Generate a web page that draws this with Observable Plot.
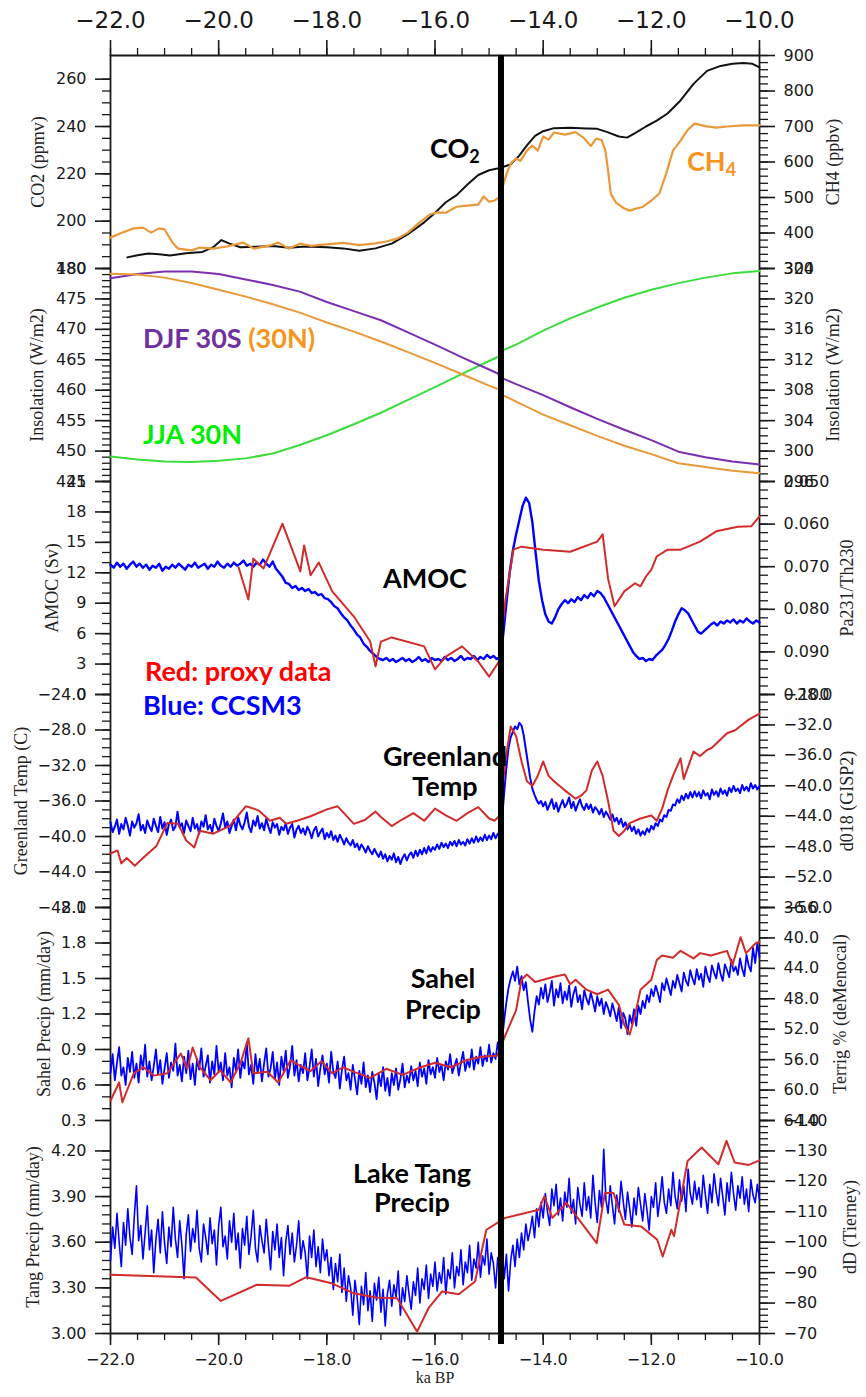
<!DOCTYPE html>
<html><head><meta charset="utf-8">
<script src="https://cdn.jsdelivr.net/npm/d3@7"></script>
<script src="https://cdn.jsdelivr.net/npm/@observablehq/plot@0.6"></script>
<style>
body{margin:0;background:#fff;}
#wrap{position:relative;width:866px;height:1397px;overflow:hidden;background:#fff;}
.ann{position:absolute;font-family:Lato,"Open Sans",sans-serif;font-weight:700;font-size:27px;line-height:27px;white-space:nowrap;}
.ann sub{font-size:18px;vertical-align:-5px;line-height:0;}
.c{text-align:center;width:200px;}
</style></head><body><div id="wrap"></div>
<script>
// ---------------- DATA ----------------
const xMajorTicks = [-22, -20, -18, -16, -14, -12, -10];
const thickLineAge = -14.78;

// Panel 1: CO2 (ppmv, left) and CH4 (ppbv, right)
const co2 = [[-21.69,184.7],[-21.5,185.6],[-21.3,186.3],[-21.1,186.0],[-20.9,185.5],[-20.6,186.4],[-20.3,187.0],[-20.1,189],[-19.95,192.0],[-19.8,190.5],[-19.6,189],[-19.3,189.2],[-19.0,189.5],[-18.7,188.8],[-18.4,189.3],[-18.0,189.0],[-17.7,188.5],[-17.4,187.5],[-17.1,188.5],[-16.8,190.5],[-16.5,194.5],[-16.2,199.5],[-16.0,203.5],[-15.8,208],[-15.6,211],[-15.4,215.5],[-15.2,219.5],[-15.0,221.5],[-14.8,222.5],[-14.6,224],[-14.45,227.5],[-14.3,232],[-14.15,236],[-14.0,238],[-13.8,239.3],[-13.5,239.5],[-13.2,239.2],[-13.0,239],[-12.8,237.5],[-12.6,235.8],[-12.45,235.3],[-12.3,237.2],[-12.1,240],[-11.9,242.5],[-11.7,245.5],[-11.46,251],[-11.22,258],[-10.97,263.5],[-10.72,265.6],[-10.5,266.5],[-10.3,266.8],[-10.13,266.5],[-10.0,265]];
const ch4 = [[-22,387],[-21.8,400],[-21.57,413],[-21.4,415],[-21.25,401],[-21.1,413],[-21.0,410],[-20.85,372],[-20.75,356],[-20.5,351],[-20.35,359],[-20.1,356],[-19.85,362],[-19.55,373],[-19.35,356],[-19.05,365],[-18.9,373],[-18.7,356],[-18.5,370],[-18.3,364],[-18.0,368],[-17.7,372],[-17.4,366],[-17.1,371],[-16.9,376],[-16.7,384],[-16.5,401],[-16.3,428],[-16.1,452],[-15.95,458],[-15.8,457],[-15.6,474],[-15.4,477],[-15.2,480],[-15.1,503],[-15.0,488],[-14.9,491],[-14.82,500],[-14.75,530],[-14.68,565],[-14.6,596],[-14.5,610],[-14.42,603],[-14.3,632],[-14.2,646],[-14.1,632],[-14.0,672],[-13.9,663],[-13.8,683],[-13.6,677],[-13.4,684],[-13.25,668],[-13.12,645],[-13.02,666],[-12.92,662],[-12.85,632],[-12.8,576],[-12.75,511],[-12.65,485],[-12.5,469],[-12.4,463],[-12.3,468],[-12.15,474],[-12.0,491],[-11.85,512],[-11.72,570],[-11.6,632],[-11.46,660],[-11.33,690],[-11.2,708],[-11.0,701],[-10.8,697],[-10.6,700],[-10.3,703],[-10.0,703]];
const co2Ticks = [180, 200, 220, 240, 260];
const ch4Ticks = [300, 400, 500, 600, 700, 800, 900];

// Panel 2: insolation (W/m2)
const djf30S = [[-22,478.4],[-21.5,479.1],[-21,479.5],[-20.5,479.5],[-20,479.1],[-19.5,478.2],[-19,477.3],[-18.5,476.2],[-18,474.5],[-17.5,473],[-17,471.5],[-16.5,469.5],[-16,467.5],[-15.5,465.4],[-15,463.4],[-14.78,462.5],[-14.76,462.0],[-14.5,461.0],[-14,459.2],[-13.5,457.2],[-13,455.3],[-12.5,453.5],[-12,451.8],[-11.5,449.9],[-11,449.0],[-10.5,448.3],[-10,447.8]];
const jja30N = [[-22,449.1],[-21.5,448.6],[-21,448.3],[-20.5,448.2],[-20,448.4],[-19.5,448.8],[-19,449.6],[-18.5,451.0],[-18,452.6],[-17.5,454.4],[-17,456.3],[-16.5,458.4],[-16,460.5],[-15.5,462.7],[-15,464.8],[-14.78,465.7],[-14.76,466.5],[-14.5,467.5],[-14,469.8],[-13.5,471.8],[-13,473.6],[-12.5,475.2],[-12,476.5],[-11.5,477.6],[-11,478.5],[-10.5,479.2],[-10,479.6]];
const djf30N = [[-22,323.3],[-21.5,323.2],[-21,322.8],[-20.5,322.1],[-20,321.2],[-19.5,320.3],[-19,319.3],[-18.5,318.2],[-18,316.9],[-17.5,315.7],[-17,314.4],[-16.5,313.0],[-16,311.6],[-15.5,310.1],[-15,308.6],[-14.78,308.0],[-14.76,307.4],[-14.5,306.5],[-14,304.8],[-13.5,303.4],[-13,302.0],[-12.5,300.7],[-12,299.6],[-11.5,298.4],[-11,297.9],[-10.5,297.4],[-10,297.1]];
const insLTicks = [445, 450, 455, 460, 465, 470, 475, 480];
const insRTicks = [296, 300, 304, 308, 312, 316, 320, 324];

// model time axes for CCSM3 series (ka BP)
const modelAgeA = d3.range(201).map(i => -22 + i * 0.06);
const modelAgeB = d3.range(301).map(i => -22 + i * 0.04);

// Panel 3: AMOC (Sv) and Pa231/Th230
const amocModel = [12.8,12.5,13.0,12.6,12.9,12.4,12.8,13.1,12.6,12.9,
12.5,12.8,12.3,12.7,12.5,12.9,12.2,12.6,12.4,12.8,
12.5,12.9,12.6,12.3,12.8,12.6,13.0,12.5,12.7,12.9,
12.4,12.8,12.6,13.1,12.7,12.5,12.9,12.6,13.0,12.7,
12.9,13.2,12.7,12.9,12.6,13.0,12.8,13.3,12.9,12.6,
13.1,12.4,12.0,11.6,11.0,10.9,10.5,10.7,10.3,10.5,
10.2,10.4,10.0,10.1,9.8,9.9,9.5,9.4,9.1,8.7,
8.5,8.0,7.6,7.3,6.8,6.4,5.9,5.6,5.0,4.7,
4.3,4.0,3.7,3.5,3.4,3.6,3.3,3.5,3.2,3.4,
3.6,3.3,3.5,3.2,3.4,3.7,3.3,3.5,3.2,3.6,
3.4,3.5,3.3,3.7,3.4,3.6,3.3,3.5,3.8,3.4,
3.6,3.5,3.8,3.4,3.7,3.5,3.9,3.6,3.8,3.5,3.7,
5.8,9.0,12.0,14.2,15.8,17.2,18.6,19.4,18.9,17.0,
14.0,11.2,9.3,7.9,7.2,7.0,7.6,8.4,8.9,9.3,
9.0,9.4,9.1,9.6,9.3,9.8,9.5,10.0,9.7,10.2,
10.0,9.6,9.0,8.4,7.8,7.2,6.6,6.0,5.4,4.8,
4.2,3.8,3.5,3.6,3.3,3.5,3.4,3.8,4.1,4.4,
4.9,5.5,6.3,7.2,7.9,8.5,8.3,8.0,7.4,6.8,
6.2,6.0,6.3,6.6,6.9,7.1,6.8,7.2,7.0,7.3,
7.1,7.4,7.0,7.3,7.1,7.5,7.2,7.0,7.3,7.1];
const paTh = [[-19.63,0.0702],[-19.45,0.0777],[-19.36,0.0681],[-19.17,0.0704],[-18.82,0.0599],[-18.49,0.0711],[-18.42,0.0650],[-18.3,0.0720],[-18.15,0.0690],[-17.9,0.0758],[-17.5,0.0817],[-17.2,0.0875],[-17.1,0.0934],[-17.0,0.0876],[-16.8,0.0866],[-16.2,0.0887],[-16.0,0.0941],[-15.8,0.0911],[-15.5,0.0887],[-15.2,0.0923],[-15.0,0.0958],[-14.82,0.0923],[-14.7,0.0780],[-14.55,0.0660],[-14.4,0.0653],[-14.0,0.0660],[-13.5,0.0665],[-13.0,0.0641],[-12.9,0.0624],[-12.8,0.0728],[-12.68,0.0793],[-12.5,0.0758],[-12.3,0.0739],[-12.2,0.0746],[-12.1,0.0723],[-12.0,0.0707],[-11.9,0.0676],[-11.7,0.0660],[-11.46,0.0660],[-11.1,0.0641],[-10.8,0.0617],[-10.4,0.0606],[-10.15,0.0605],[-10.0,0.0582]];
const amocTicks = [0, 3, 6, 9, 12, 15, 18, 21];
const paThTicks = [0.05, 0.06, 0.07, 0.08, 0.09, 0.10];

// Panel 4: Greenland temperature (C) and d18O GISP2
const greenModel = [-38.4,-39.5,-38.9,-38.1,-39.7,-38.6,-39.2,-37.9,-38.8,-39.9,
-38.3,-39.0,-38.5,-37.5,-39.3,-38.7,-39.6,-38.2,-38.9,-39.4,
-38.0,-38.8,-39.5,-37.8,-39.1,-38.4,-39.8,-38.6,-38.1,-39.3,
-38.9,-37.2,-39.0,-38.5,-39.6,-38.2,-38.8,-39.4,-37.9,-39.1,
-38.6,-39.7,-38.3,-38.9,-37.6,-39.2,-38.7,-39.5,-38.0,-38.8,
-39.4,-38.5,-37.4,-39.0,-38.3,-39.6,-38.8,-38.1,-39.3,-37.8,
-38.7,-39.2,-38.4,-37.3,-38.9,-39.5,-38.2,-38.8,-37.7,-39.1,
-38.5,-39.3,-38.0,-38.9,-39.6,-38.4,-39.0,-38.6,-39.8,-38.9,
-39.3,-38.5,-39.7,-39.0,-38.6,-40.1,-39.2,-38.8,-39.6,-39.1,
-39.8,-38.9,-39.4,-40.2,-39.3,-38.9,-40.0,-39.5,-39.1,-40.3,
-39.6,-40.1,-39.4,-40.4,-39.9,-40.6,-39.8,-40.3,-40.9,-40.2,
-40.7,-41.0,-40.4,-41.2,-40.8,-41.5,-40.9,-41.3,-41.8,-41.1,
-41.6,-42.0,-41.4,-41.9,-42.3,-41.7,-42.5,-42.0,-42.8,-42.2,
-42.6,-41.9,-42.9,-42.3,-43.1,-42.4,-42.0,-42.7,-42.1,-41.8,
-42.4,-41.6,-42.2,-41.5,-42.0,-41.3,-41.9,-41.1,-41.7,-41.2,
-41.5,-40.9,-41.4,-40.7,-41.2,-40.8,-41.3,-40.6,-41.0,-40.5,
-41.1,-40.4,-40.9,-40.6,-41.0,-40.3,-40.8,-40.2,-40.7,-40.0,
-40.6,-40.1,-40.5,-39.8,-40.4,-39.9,-40.3,-39.6,-40.2,-39.7,-40.1,
-38.0,-35.0,-32.2,-30.0,-28.8,-28.2,-27.6,-27.9,-27.2,-27.5,
-28.6,-30.2,-31.8,-33.4,-34.6,-35.3,-35.9,-36.3,-36.0,-36.6,
-36.1,-37.0,-36.4,-35.8,-36.9,-36.2,-37.2,-36.5,-35.9,-36.7,
-36.3,-35.6,-36.8,-36.1,-37.1,-36.4,-35.8,-36.6,-37.0,-36.3,
-36.9,-36.4,-37.3,-36.7,-37.0,-37.5,-36.9,-37.8,-37.2,-37.6,
-38.1,-37.5,-38.3,-37.9,-38.6,-38.0,-38.9,-38.4,-39.2,-38.7,
-39.4,-38.9,-39.7,-39.2,-39.9,-39.4,-39.8,-39.1,-39.5,-38.8,
-39.2,-38.5,-38.8,-38.1,-38.3,-37.6,-37.8,-37.0,-37.1,-36.4,
-36.5,-35.8,-36.2,-35.4,-35.9,-35.2,-35.7,-35.0,-35.6,-34.9,
-35.5,-35.0,-35.7,-34.8,-35.4,-35.1,-35.8,-34.7,-35.3,-34.9,
-35.5,-34.6,-35.2,-34.8,-35.4,-34.5,-35.0,-34.3,-34.9,-34.6,
-35.1,-34.2,-34.8,-34.4,-34.9,-34.0,-34.6,-34.2,-34.7,-34.3];
const d18O = [[-22,-48.9],[-21.87,-48.5],[-21.8,-50.2],[-21.7,-49.5],[-21.55,-50.5],[-21.4,-49.5],[-21.15,-47.9],[-20.95,-44.9],[-20.75,-45.0],[-20.6,-47.2],[-20.45,-48.1],[-20.35,-45.9],[-20.1,-46.3],[-19.8,-45.3],[-19.5,-42.7],[-19.35,-43.0],[-19.25,-43.3],[-19.05,-44.6],[-18.87,-44.2],[-18.75,-45.0],[-18.55,-44.6],[-18.3,-44.0],[-18.0,-43.1],[-17.8,-42.7],[-17.5,-45.0],[-17.3,-44.5],[-17.1,-43.4],[-17.0,-44.1],[-16.8,-45.3],[-16.6,-44.4],[-16.4,-43.6],[-16.2,-44.6],[-16.0,-43.0],[-15.8,-43.9],[-15.6,-44.6],[-15.4,-43.6],[-15.2,-42.8],[-15.0,-44.3],[-14.9,-44.6],[-14.8,-43.9],[-14.7,-36.8],[-14.6,-32.2],[-14.5,-33.5],[-14.4,-36.8],[-14.3,-39.4],[-14.2,-40.0],[-14.1,-38.7],[-14.0,-36.8],[-13.9,-38.7],[-13.8,-39.4],[-13.6,-40.6],[-13.4,-41.7],[-13.3,-41.3],[-13.2,-40.6],[-13.1,-38.0],[-13.0,-36.8],[-12.9,-38.7],[-12.8,-42.0],[-12.7,-45.9],[-12.6,-46.6],[-12.5,-45.9],[-12.4,-44.9],[-12.2,-44.3],[-12.0,-43.9],[-11.9,-44.6],[-11.8,-43.0],[-11.7,-40.6],[-11.6,-38.7],[-11.46,-36.4],[-11.4,-39.1],[-11.22,-35.5],[-11.1,-36.1],[-10.97,-35.3],[-10.88,-35.0],[-10.6,-33.1],[-10.45,-32.7],[-10.2,-31.3],[-10.0,-30.5]];
const greenTicks = [-48, -44, -40, -36, -32, -28, -24];
const d18OTicks = [-56, -52, -48, -44, -40, -36, -32, -28];

// Panel 5: Sahel precip (mm/day) and Terrigenous % (deMenocal)
const sahelModel = [0.70,0.86,0.64,0.79,0.92,0.68,0.75,0.60,0.83,0.71,
0.88,0.66,0.78,0.62,0.85,0.73,0.94,0.67,0.80,0.64,
0.76,0.90,0.69,0.81,0.61,0.74,0.87,0.66,0.79,0.72,
0.95,0.68,0.77,0.63,0.84,0.70,0.89,0.65,0.78,0.60,
0.82,0.73,0.91,0.67,0.76,0.85,0.62,0.80,0.69,0.93,
0.71,0.79,0.64,0.87,0.68,0.75,0.58,0.83,0.72,0.90,
0.66,0.80,0.74,0.96,0.69,0.77,0.61,0.86,0.70,0.82,
0.63,0.78,0.91,0.67,0.74,0.88,0.65,0.79,0.60,0.84,
0.72,0.89,0.66,0.76,0.93,0.68,0.81,0.63,0.77,0.70,
0.87,0.64,0.75,0.90,0.67,0.82,0.59,0.74,0.85,0.69,
0.78,0.62,0.88,0.71,0.66,0.80,0.57,0.73,0.84,0.64,
0.70,0.56,0.77,0.65,0.52,0.72,0.61,0.79,0.58,0.68,
0.54,0.71,0.62,0.48,0.69,0.59,0.75,0.55,0.66,0.51,
0.70,0.60,0.74,0.56,0.65,0.78,0.58,0.68,0.62,0.76,
0.64,0.72,0.59,0.79,0.67,0.74,0.61,0.81,0.69,0.75,
0.66,0.83,0.71,0.77,0.64,0.80,0.73,0.86,0.70,0.76,
0.82,0.68,0.79,0.88,0.72,0.81,0.75,0.90,0.73,0.84,
0.78,0.92,0.76,0.85,0.80,0.94,0.79,0.87,0.82,0.96,0.84,
0.98,1.15,1.30,1.42,1.50,1.56,1.48,1.60,1.45,1.52,
1.40,1.47,1.30,1.15,1.05,1.22,1.35,1.28,1.42,1.33,
1.45,1.30,1.38,1.48,1.27,1.41,1.34,1.46,1.29,1.39,
1.32,1.44,1.26,1.37,1.43,1.30,1.36,1.24,1.40,1.33,
1.28,1.38,1.31,1.22,1.35,1.27,1.33,1.20,1.30,1.25,
1.18,1.29,1.22,1.14,1.26,1.08,1.21,1.16,1.03,1.19,
1.12,1.24,1.10,1.27,1.20,1.31,1.25,1.36,1.30,1.41,
1.35,1.44,1.38,1.30,1.46,1.40,1.50,1.43,1.36,1.48,
1.42,1.53,1.46,1.39,1.55,1.48,1.44,1.57,1.50,1.45,
1.58,1.49,1.54,1.43,1.60,1.52,1.47,1.61,1.55,1.50,
1.63,1.54,1.48,1.62,1.57,1.51,1.66,1.56,1.60,1.53,
1.67,1.58,1.52,1.70,1.61,1.56,1.76,1.63,1.80,1.68];
const terrig = [[-22,61.4],[-21.84,59.0],[-21.78,61.6],[-21.57,57.8],[-21.39,57.0],[-21.2,58.1],[-20.95,57.8],[-20.7,55.2],[-20.58,57.2],[-20.48,54.4],[-20.35,57.0],[-20.15,58.7],[-19.97,57.4],[-19.78,59.0],[-19.6,56.5],[-19.45,53.2],[-19.36,57.8],[-19.1,57.6],[-18.9,59.0],[-18.67,56.1],[-18.5,56.8],[-18.3,57.5],[-18.1,56.2],[-17.9,57.8],[-17.7,57.0],[-17.5,57.6],[-17.2,58.4],[-16.9,57.2],[-16.6,58.0],[-16.3,57.1],[-16.0,56.4],[-15.7,57.0],[-15.4,56.0],[-15.1,55.6],[-14.85,55.5],[-14.7,52.8],[-14.5,49.5],[-14.4,45.5],[-14.3,44.8],[-14.15,45.8],[-14.0,45.5],[-13.8,45.1],[-13.6,44.8],[-13.5,46.1],[-13.4,45.5],[-13.2,46.8],[-13.0,47.4],[-12.8,46.8],[-12.6,48.8],[-12.5,51.4],[-12.4,52.7],[-12.3,50.1],[-12.2,46.8],[-12.0,45.5],[-11.9,42.9],[-11.8,42.3],[-11.6,42.6],[-11.46,41.7],[-11.22,42.7],[-11.1,42.0],[-10.9,42.3],[-10.6,41.7],[-10.5,43.6],[-10.35,39.9],[-10.25,42.0],[-10.07,40.7],[-10.0,40.5]];
const sahelTicks = [0.3, 0.6, 0.9, 1.2, 1.5, 1.8, 2.1];
const terrigTicks = [36, 40, 44, 48, 52, 56, 60, 64];

// Panel 6: Lake Tanganyika precip (mm/day) and dD (Tierney)
const tangModel = [3.48,3.70,3.56,3.79,3.60,3.44,3.73,3.58,3.82,3.63,
3.52,3.77,3.97,3.61,3.71,3.49,3.66,3.84,3.55,3.68,
3.40,3.62,3.75,3.53,3.80,3.59,3.46,3.70,3.57,3.83,
3.62,3.50,3.74,3.58,3.36,3.65,3.78,3.54,3.69,3.60,
3.81,3.56,3.47,3.72,3.63,3.52,3.76,3.59,3.68,3.45,
3.71,3.83,3.57,3.64,3.49,3.74,3.60,3.79,3.55,3.66,
3.43,3.69,3.58,3.77,3.52,3.64,3.81,3.56,3.47,3.71,
3.61,3.53,3.75,3.58,3.42,3.67,3.55,3.72,3.50,3.63,
3.38,3.60,3.71,3.52,3.66,3.47,3.58,3.74,3.49,3.61,
3.53,3.36,3.64,3.50,3.68,3.44,3.57,3.40,3.62,3.48,
3.55,3.38,3.50,3.29,3.46,3.34,3.52,3.27,3.43,3.21,
3.38,3.30,3.12,3.35,3.24,3.06,3.31,3.19,3.40,3.15,
3.28,3.08,3.33,3.22,3.37,3.14,3.29,3.05,3.26,3.35,
3.18,3.32,3.24,3.41,3.12,3.30,3.21,3.38,3.26,3.16,
3.34,3.25,3.43,3.20,3.36,3.29,3.45,3.23,3.39,3.31,
3.47,3.28,3.40,3.33,3.50,3.26,3.42,3.36,3.53,3.30,
3.44,3.38,3.55,3.32,3.47,3.40,3.58,3.35,3.49,3.43,
3.60,3.37,3.51,3.45,3.62,3.39,3.53,3.46,3.30,3.50,3.42,
3.56,3.36,3.52,3.28,3.48,3.58,3.44,3.62,3.50,3.66,
3.55,3.72,3.61,3.68,3.77,3.63,3.82,3.70,3.86,3.76,
3.92,3.80,3.71,3.95,3.84,3.98,3.78,3.89,3.74,3.93,
3.83,4.02,3.79,3.88,3.72,3.96,3.85,3.77,3.99,3.81,
3.90,3.76,4.04,3.86,3.73,3.94,3.83,4.21,3.88,3.79,
3.97,3.84,3.72,3.91,3.80,4.00,3.87,3.75,3.93,3.82,
3.70,3.89,3.78,3.96,3.85,3.74,3.92,3.81,3.68,3.90,
3.83,3.99,3.77,3.88,4.03,3.86,3.79,3.95,3.84,4.06,
3.90,3.82,4.01,3.87,3.97,3.80,4.08,3.92,3.85,4.00,
3.88,3.96,3.83,4.04,3.91,3.79,3.98,3.86,4.05,3.93,
3.84,4.02,3.90,3.78,3.99,3.87,4.06,3.92,3.81,3.97,
3.89,4.03,3.85,3.95,3.80,4.01,3.91,3.86,3.98,3.88];
const dD = [[-22,-89.3],[-20.42,-88.4],[-19.96,-80.7],[-19.3,-86.0],[-18.69,-85.7],[-18.38,-88.5],[-17.91,-86.5],[-17.5,-83.2],[-17.1,-81.8],[-16.7,-81.6],[-16.33,-70.6],[-16.12,-78.3],[-15.87,-83.8],[-15.56,-82.9],[-15.26,-87.1],[-15.05,-104.1],[-14.70,-108],[-14.08,-110.7],[-13.98,-115.1],[-13.83,-108],[-13.57,-112.9],[-13.01,-99.7],[-12.86,-116.2],[-12.70,-116.2],[-12.50,-105.8],[-12.19,-105.2],[-11.89,-100.8],[-11.79,-95.3],[-11.63,-104.1],[-11.58,-102],[-11.33,-126.7],[-11.07,-131.1],[-10.76,-125.6],[-10.61,-133.3],[-10.46,-126.2],[-10.2,-125.4],[-10.0,-126.9]];
const tangTicks = [3.0, 3.3, 3.6, 3.9, 4.2];
const dDTicks = [-140, -130, -120, -110, -100, -90, -80, -70];

// ---------------- LAYOUT ----------------
const W = 866, H = 1397, ML = 110, MR = 107, TOP = 55, PH = 213;
const wrap = document.getElementById("wrap");
const f0 = d3.format("d"), f1 = d3.format(".1f"), f2 = d3.format(".2f"), f3 = d3.format(".3f");
const INK = "#1a1a1a";
const BLUE = "#0000ff", RED = "#d22b2b", ORANGE = "#e9993a", PURPLE = "#7a2fb0", GREEN = "#3ddc3d";

function addPlot(i, domain, marks) {
  const mt = i === 0 ? TOP : 14;
  const mb = i === 5 ? H - (TOP + 6 * PH) : 14;
  const svg = Plot.plot({
    width: W, height: PH + mt + mb,
    marginLeft: ML, marginRight: MR, marginTop: mt, marginBottom: mb,
    x: {domain: [-22, -10], axis: null},
    y: {domain, axis: null},
    style: {background: "transparent", overflow: "visible", fontFamily: "DejaVu Sans", fontSize: "16px", color: INK},
    marks
  });
  svg.style.position = "absolute";
  svg.style.left = "0px";
  svg.style.top = (TOP + i * PH - mt) + "px";
  wrap.appendChild(svg);
}
function yAxes(anchor, major, minorStep, fmt) {
  const lo = d3.min(major), hi = d3.max(major);
  const minor = d3.range(Math.round((hi - lo) / minorStep) + 1).map(k => lo + k * minorStep);
  return [
    Plot.axisY(minor, {anchor, tickSize: 8, tickFormat: () => "", strokeWidth: 1.3, label: null}),
    Plot.axisY(major, {anchor, tickSize: 15, tickPadding: 9, tickFormat: fmt, strokeWidth: 1.6, label: null})
  ];
}
function title(text, side, dx) {
  return Plot.text([text], {frameAnchor: side, textAnchor: "middle", lineAnchor: "middle", rotate: -90, dx, fontFamily: "Liberation Serif", fontSize: 18, fill: "#222"});
}
const frameSides = () => Plot.ruleX([-22, -10], {stroke: INK, strokeWidth: 1.8});
const thick = (opts = {}) => Plot.ruleX([thickLineAge], {stroke: "#000", strokeWidth: 6, ...opts});
const xMinor = d3.range(25).map(k => -22 + k * 0.5);
const lineA = (vals, color, sw) => Plot.line(vals, {x: (d, i) => modelAgeA[i], y: d => d, stroke: color, strokeWidth: sw});
const lineB = (vals, color, sw) => Plot.line(vals, {x: (d, i) => modelAgeB[i], y: d => d, stroke: color, strokeWidth: sw});
const lineP = (pairs, color, sw) => Plot.line(pairs, {x: d => d[0], y: d => d[1], stroke: color, strokeWidth: sw});

// Panel 1
addPlot(0, [180, 270], [
  frameSides(),
  Plot.ruleY([270], {stroke: INK, strokeWidth: 1.8}),
  Plot.axisX(xMinor, {anchor: "top", tickSize: 8, tickFormat: () => "", strokeWidth: 1.3, label: null}),
  Plot.axisX(xMajorTicks, {anchor: "top", tickSize: 16, tickPadding: 12, tickFormat: f1, fontSize: 23, strokeWidth: 1.6, label: null}),
  ...yAxes("left", co2Ticks, 5, f0),
  title("CO2 (ppmv)", "left", -72),
  lineP(co2, "#111", 2)
]);
addPlot(0, [300, 900], [
  ...yAxes("right", ch4Ticks, 20, f0),
  title("CH4 (ppbv)", "right", 74),
  lineP(ch4, ORANGE, 2.2),
  thick()
]);

// Panel 2
addPlot(1, [445, 480], [
  frameSides(),
  ...yAxes("left", insLTicks, 1, f0),
  title("Insolation (W/m2)", "left", -73),
  lineP(jja30N, GREEN, 2),
  lineP(djf30S, PURPLE, 2)
]);
addPlot(1, [296, 324], [
  ...yAxes("right", insRTicks, 1, f0),
  title("Insolation (W/m2)", "right", 74),
  lineP(djf30N, ORANGE, 2),
  thick()
]);

// Panel 3
addPlot(2, [0, 21], [
  frameSides(),
  ...yAxes("left", amocTicks, 1, f0),
  title("AMOC (Sv)", "left", -58),
  lineA(amocModel, BLUE, 2.4)
]);
addPlot(2, [0.10, 0.05], [
  ...yAxes("right", paThTicks, 0.002, f3),
  title("Pa231/Th230", "right", 88),
  lineP(paTh, RED, 2),
  thick()
]);

// Panel 4
addPlot(3, [-48, -24], [
  frameSides(),
  ...yAxes("left", greenTicks, 1, f1),
  title("Greenland Temp (C)", "left", -89),
  lineB(greenModel, BLUE, 2)
]);
addPlot(3, [-56, -28], [
  ...yAxes("right", d18OTicks, 1, f1),
  title("d018 (GISP2)", "right", 88),
  lineP(d18O, RED, 2),
  thick()
]);

// Panel 5
addPlot(4, [0.3, 2.1], [
  frameSides(),
  ...yAxes("left", sahelTicks, 0.1, f1),
  title("Sahel Precip (mm/day)", "left", -66),
  lineB(sahelModel, BLUE, 1.8)
]);
addPlot(4, [64, 36], [
  ...yAxes("right", terrigTicks, 1, f1),
  title("Terrig % (deMenocal)", "right", 81),
  lineP(terrig, RED, 2),
  thick()
]);

// Panel 6
addPlot(5, [3.0, 4.4], [
  frameSides(),
  Plot.ruleY([3.0], {stroke: INK, strokeWidth: 1.8}),
  Plot.axisX(xMinor, {anchor: "bottom", tickSize: 7, tickFormat: () => "", strokeWidth: 1.3, label: null}),
  Plot.axisX(xMajorTicks, {anchor: "bottom", tickSize: 12, tickPadding: 8, tickFormat: f1, fontSize: 16, strokeWidth: 1.6, label: null}),
  Plot.text(["ka BP"], {frameAnchor: "bottom", dy: 49, fontFamily: "Liberation Serif", fontSize: 16, fill: "#222"}),
  ...yAxes("left", tangTicks, 0.06, f2),
  title("Tang Precip (mm/day)", "left", -77),
  lineB(tangModel, BLUE, 1.6)
]);
addPlot(5, [-70, -140], [
  ...yAxes("right", dDTicks, 2, f0),
  title("dD (Tierney)", "right", 91),
  lineP(dD, RED, 2),
  thick({y1: -66.4, y2: -140})
]);

// ---------------- ANNOTATIONS ----------------
const notes = [
  {html: "CO<sub>2</sub>", x: 430, base: 155, color: "#000"},
  {html: "CH<sub>4</sub>", x: 687, base: 168, color: "#f7941d"},
  {html: "DJF 30S <span style='color:#f7941d'>(30N)</span>", x: 143, base: 345, color: "#7030a0"},
  {html: "JJA 30N", x: 143, base: 441, color: "#00ee00"},
  {html: "AMOC", x: 383, base: 585, color: "#000"},
  {html: "Red: proxy data", x: 145, base: 678, color: "#ff0000"},
  {html: "Blue: CCSM3", x: 143, base: 712, color: "#0000ff"},
  {html: "Greenland", cx: 445, base: 763, color: "#000"},
  {html: "Temp", cx: 445, base: 793, color: "#000"},
  {html: "Sahel", cx: 443, base: 985, color: "#000"},
  {html: "Precip", cx: 443, base: 1016, color: "#000"},
  {html: "Lake Tang", cx: 412, base: 1180, color: "#000"},
  {html: "Precip", cx: 412, base: 1209, color: "#000"}
];
for (const n of notes) {
  const d = document.createElement("div");
  d.className = "ann" + (n.cx != null ? " c" : "");
  d.innerHTML = n.html;
  d.style.color = n.color;
  d.style.top = (n.base - 21) + "px";
  d.style.left = (n.cx != null ? n.cx - 100 : n.x) + "px";
  wrap.appendChild(d);
}
</script></body></html>
